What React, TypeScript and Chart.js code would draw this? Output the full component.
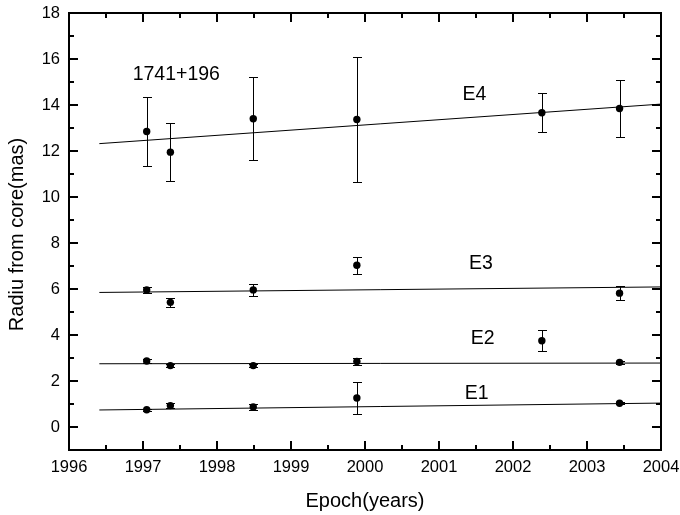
import React, { useEffect, useRef } from "react";
import { Chart, registerables } from "chart.js";

Chart.register(...registerables);

// ---- data ----
const e4Epochs = [1997.05, 1997.37, 1998.49, 1999.89, 2002.39, 2003.44];
const e4Radius = [12.85, 11.95, 13.4, 13.37, 13.66, 13.85];
const e4Error = [1.49, 1.25, 1.8, 2.72, 0.85, 1.22];

const e3Epochs = [1997.05, 1997.37, 1998.49, 1999.89, 2003.44];
const e3Radius = [5.96, 5.42, 5.96, 7.03, 5.82];
const e3Error = [0.13, 0.2, 0.25, 0.36, 0.29];

const e2Epochs = [1997.05, 1997.37, 1998.49, 1999.89, 2002.39, 2003.44];
const e2Radius = [2.87, 2.67, 2.67, 2.85, 3.75, 2.81];
const e2Error = [0.1, 0.07, 0.08, 0.17, 0.45, 0.07];

const e1Epochs = [1997.05, 1997.37, 1998.49, 1999.89, 2003.44];
const e1Radius = [0.75, 0.93, 0.87, 1.26, 1.03];
const e1Error = [0.04, 0.12, 0.12, 0.7, 0.05];

const fitEpochs = [1996.41, 2004];
const e4Fit = [12.32, 14.04];
const e3Fit = [5.85, 6.09];
const e2Fit = [2.75, 2.78];
const e1Fit = [0.74, 1.04];

const xTickYears = [1996, 1997, 1998, 1999, 2000, 2001, 2002, 2003, 2004];
const yTickValues = [0, 2, 4, 6, 8, 10, 12, 14, 16, 18];

const labelTexts = ["1741+196", "E4", "E3", "E2", "E1"];
const labelX = [1997.45, 2001.48, 2001.565, 2001.59, 2001.51];
const labelY = [15.07, 14.2, 6.88, 3.61, 1.22];

const xTitle = "Epoch(years)";
const yTitle = "Radiu from core(mas)";

const FONT = "'Liberation Sans', Arial, Helvetica, sans-serif";

function pts(xs: number[], ys: number[], errs?: number[]) {
  return xs.map((x, i) => ({ x, y: ys[i], err: errs ? errs[i] : 0 }));
}

function pointSet(xs: number[], ys: number[], errs: number[]) {
  return {
    type: "scatter" as const,
    data: pts(xs, ys, errs),
    errBars: true,
    showLine: false,
    pointRadius: 3.7,
    pointBackgroundColor: "#000",
    pointBorderColor: "#000",
    pointBorderWidth: 0,
    pointHoverRadius: 3.7,
  };
}

function fitSet(ys: number[]) {
  return {
    type: "scatter" as const,
    data: pts(fitEpochs, ys),
    showLine: true,
    borderColor: "#000",
    borderWidth: 1,
    pointRadius: 0,
    fill: false,
  };
}

const decorPlugin = {
  id: "decor",
  afterDraw(chart: any) {
    const ctx: CanvasRenderingContext2D = chart.ctx;
    const a = chart.chartArea;
    const xs = chart.scales.x;
    const ys = chart.scales.y;
    const L = Math.round(a.left), R = Math.round(a.right), T = Math.round(a.top), B = Math.round(a.bottom);

    ctx.save();
    ctx.fillStyle = "#000000";
    ctx.strokeStyle = "#000000";

    // error bars
    chart.data.datasets.forEach((ds: any) => {
      if (!ds.errBars) return;
      ds.data.forEach((p: any) => {
        const px = Math.round(xs.getPixelForValue(p.x));
        const top = Math.round(ys.getPixelForValue(p.y + p.err));
        const bot = Math.round(ys.getPixelForValue(p.y - p.err));
        ctx.fillRect(px, top, 1, bot - top + 1);
        ctx.fillRect(px - 4, top, 9, 1);
        ctx.fillRect(px - 4, bot, 9, 1);
      });
    });

    // frame (2px)
    ctx.fillRect(L - 1, T - 1, R - L + 2, 2);
    ctx.fillRect(L - 1, B - 1, R - L + 2, 2);
    ctx.fillRect(L - 1, T - 1, 2, B - T + 2);
    ctx.fillRect(R - 1, T - 1, 2, B - T + 2);

    // tick marks (inward, mirrored)
    for (let k = 0; k <= 16; k++) {
      const v = 1996 + k * 0.5;
      const len = k % 2 === 0 ? 9 : 5;
      const px = Math.round(xs.getPixelForValue(v));
      ctx.fillRect(px - 1, B - len, 2, len);
      ctx.fillRect(px - 1, T, 2, len);
    }
    for (let v = 0; v <= 18; v++) {
      const len = v % 2 === 0 ? 9 : 5;
      const py = Math.round(ys.getPixelForValue(v));
      ctx.fillRect(L, py - 1, len, 2);
      ctx.fillRect(R - len, py - 1, len, 2);
    }

    // tick labels
    ctx.font = `16.5px ${FONT}`;
    ctx.textAlign = "center";
    ctx.textBaseline = "middle";
    xTickYears.forEach((v) => {
      ctx.fillText(String(v), xs.getPixelForValue(v), B + 17.5);
    });
    ctx.textAlign = "right";
    yTickValues.forEach((v) => {
      ctx.fillText(String(v), L - 9, ys.getPixelForValue(v));
    });

    // annotation labels
    ctx.textAlign = "center";
    ctx.textBaseline = "alphabetic";
    ctx.font = `19.5px ${FONT}`;
    labelTexts.forEach((t, i) => {
      ctx.fillText(t, xs.getPixelForValue(labelX[i]), ys.getPixelForValue(labelY[i]));
    });

    // axis titles
    ctx.font = `20px ${FONT}`;
    ctx.fillText(xTitle, (L + R) / 2, 506.7);
    ctx.save();
    ctx.translate(22.7, (T + B) / 2 + 3);
    ctx.rotate(-Math.PI / 2);
    ctx.fillText(yTitle, 0, 0);
    ctx.restore();

    ctx.restore();
  },
};

export default function App() {
  const ref = useRef<HTMLCanvasElement | null>(null);

  useEffect(() => {
    if (!ref.current) return;
    const chart = new Chart(ref.current, {
      type: "scatter",
      data: {
        datasets: [
          fitSet(e4Fit),
          fitSet(e3Fit),
          fitSet(e2Fit),
          fitSet(e1Fit),
          pointSet(e4Epochs, e4Radius, e4Error),
          pointSet(e3Epochs, e3Radius, e3Error),
          pointSet(e2Epochs, e2Radius, e2Error),
          pointSet(e1Epochs, e1Radius, e1Error),
        ] as any,
      },
      options: {
        animation: false,
        responsive: false,
        events: [],
        layout: { padding: { top: 13, right: 19, left: 0, bottom: 0 } },
        plugins: {
          legend: { display: false },
          tooltip: { enabled: false },
          title: { display: false },
        },
        scales: {
          x: {
            type: "linear",
            min: 1996,
            max: 2004,
            grid: { display: false, drawTicks: false },
            border: { display: true, color: "#000", width: 2 },
            afterBuildTicks: (s: any) => {
              s.ticks = xTickYears.map((value) => ({ value }));
            },
            afterFit: (s: any) => {
              s.height = 65;
            },
            ticks: { display: false },
          },
          y: {
            type: "linear",
            min: -1,
            max: 18,
            grid: { display: false, drawTicks: false },
            border: { display: true, color: "#000", width: 2 },
            afterBuildTicks: (s: any) => {
              s.ticks = yTickValues.map((value) => ({ value }));
            },
            afterFit: (s: any) => {
              s.width = 69;
            },
            ticks: { display: false },
          },
        },
      },
      plugins: [decorPlugin],
    });
    return () => chart.destroy();
  }, []);

  return (
    <div style={{ position: "absolute", left: 0, top: 0, width: 680, height: 515, background: "#fff" }}>
      <canvas ref={ref} width={680} height={515} style={{ display: "block" }} />
    </div>
  );
}
